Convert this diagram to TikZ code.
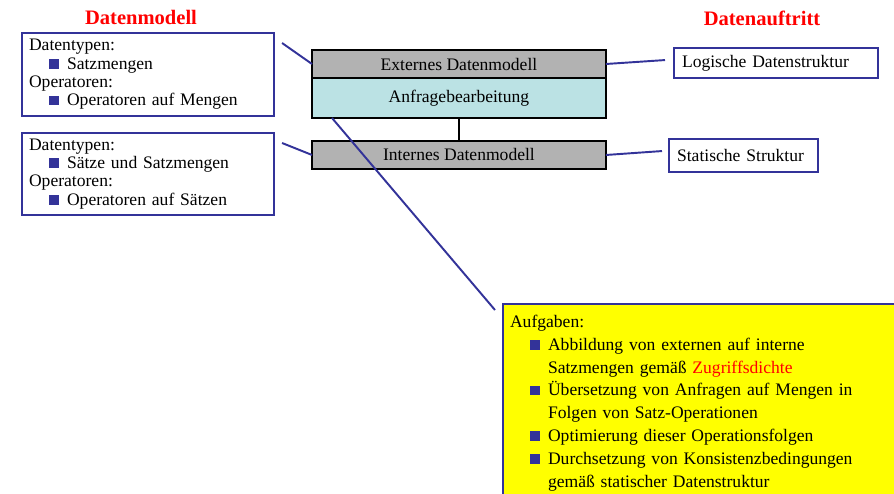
\documentclass[tikz,border=0pt]{standalone}
\usepackage{fontspec}
\setmainfont{Liberation Serif}
\usetikzlibrary{positioning}
\definecolor{dblau}{HTML}{333399}
\definecolor{dgrau}{HTML}{B2B2B2}
\definecolor{dtuerkis}{HTML}{BBE2E4}
\definecolor{drot}{HTML}{FF0000}
\definecolor{dgelb}{HTML}{FFFF00}
\setlength{\parindent}{0pt}
% Aufzaehlungszeichen
\newcommand{\bul}{\textcolor{dblau}{\raisebox{0.3pt}{\rule{5.5pt}{5.5pt}}}}
\newcommand{\bitem}[1]{\par{\leftskip=0.76cm\noindent\llap{\bul\hspace{4.5pt}}#1\par}}
\tikzset{
  % Schicht im Stapel
  schicht/.style={draw=black, line width=1.2pt, minimum width=5.88cm, outer sep=0pt,
    inner sep=0pt, font=\fontsize{10}{12}\selectfont},
  % Kasten mit Erlaeuterung
  infobox/.style={draw=dblau, line width=1.2pt, fill=white, anchor=north west,
    inner xsep=0.14cm, font=\fontsize{10}{10.4}\selectfont},
  % Verbindungslinie
  verbind/.style={dblau, line width=1.1pt},
  % Ueberschrift
  titel/.style={text=drot, font=\fontsize{11.7}{14}\selectfont\bfseries},
}
\begin{document}
\begin{tikzpicture}[x=0.02cm, y=-0.02cm]
  \useasboundingbox (0,0) rectangle (894,494);
  \clip (0,0) rectangle (894,494);
  % Ueberschriften
  \node[titel] (tdm) at (141,17) {Datenmodell};
  \node[titel] (tda) at (762,18) {Datenauftritt};
  % Schichtenstapel
  \node[schicht, fill=dgrau, minimum height=0.56cm, anchor=north west] (ext) at (312,50) {Externes Datenmodell};
  \node[schicht, fill=dtuerkis, minimum height=0.8cm, below=0pt of ext] (anf) {Anfragebearbeitung};
  \node[schicht, fill=dgrau, minimum height=0.56cm, below=0.46cm of anf] (int) {Internes Datenmodell};
  \draw[line width=1.2pt] (anf) -- (int);
  % Datenmodell links
  \node[infobox, text width=4.76cm, minimum height=1.66cm] (dm1) at (21,32)
    {Datentypen:\bitem{Satzmengen}Operatoren:\bitem{Operatoren auf Mengen}};
  \node[infobox, text width=4.76cm, minimum height=1.62cm] (dm2) at (21,132)
    {Datentypen:\bitem{Sätze und Satzmengen}Operatoren:\bitem{Operatoren auf Sätzen}};
  % Datenauftritt rechts
  \node[infobox, inner xsep=0.16cm, text width=3.76cm, minimum height=0.6cm] (lds) at (673,47) {Logische Datenstruktur};
  \node[infobox, inner xsep=0.16cm, text width=2.66cm, minimum height=0.66cm] (sts) at (668,138) {Statische Struktur};
  % Aufgaben
  \node[infobox, fill=dgelb, text width=7.9cm, inner ysep=0.22cm, font=\fontsize{10}{13}\selectfont] (aufg) at (502,303)
    {Aufgaben:\bitem{Abbildung von externen auf interne\newline Satzmengen gemäß \textcolor{drot}{Zugriffsdichte}}%
     \bitem{Übersetzung von Anfragen auf Mengen in\newline Folgen von Satz-Operationen}%
     \bitem{Optimierung dieser Operationsfolgen}%
     \bitem{Durchsetzung von Konsistenzbedingungen\newline gemäß statischer Datenstruktur}};
  % Verbindungen
  \draw[verbind] ([shift={(0.14cm,-0.22cm)}]dm1.north east) -- (ext.west);
  \draw[verbind] ([shift={(0.14cm,-0.22cm)}]dm2.north east) -- (int.west);
  \draw[verbind] (ext.east) -- ([shift={(-0.16cm,0.06cm)}]lds.west);
  \draw[verbind] (int.east) -- ([shift={(-0.12cm,0.09cm)}]sts.west);
  \draw[verbind] ([xshift=0.4cm]anf.south west) -- ([shift={(-0.14cm,-0.14cm)}]aufg.north west);
\end{tikzpicture}
\end{document}
